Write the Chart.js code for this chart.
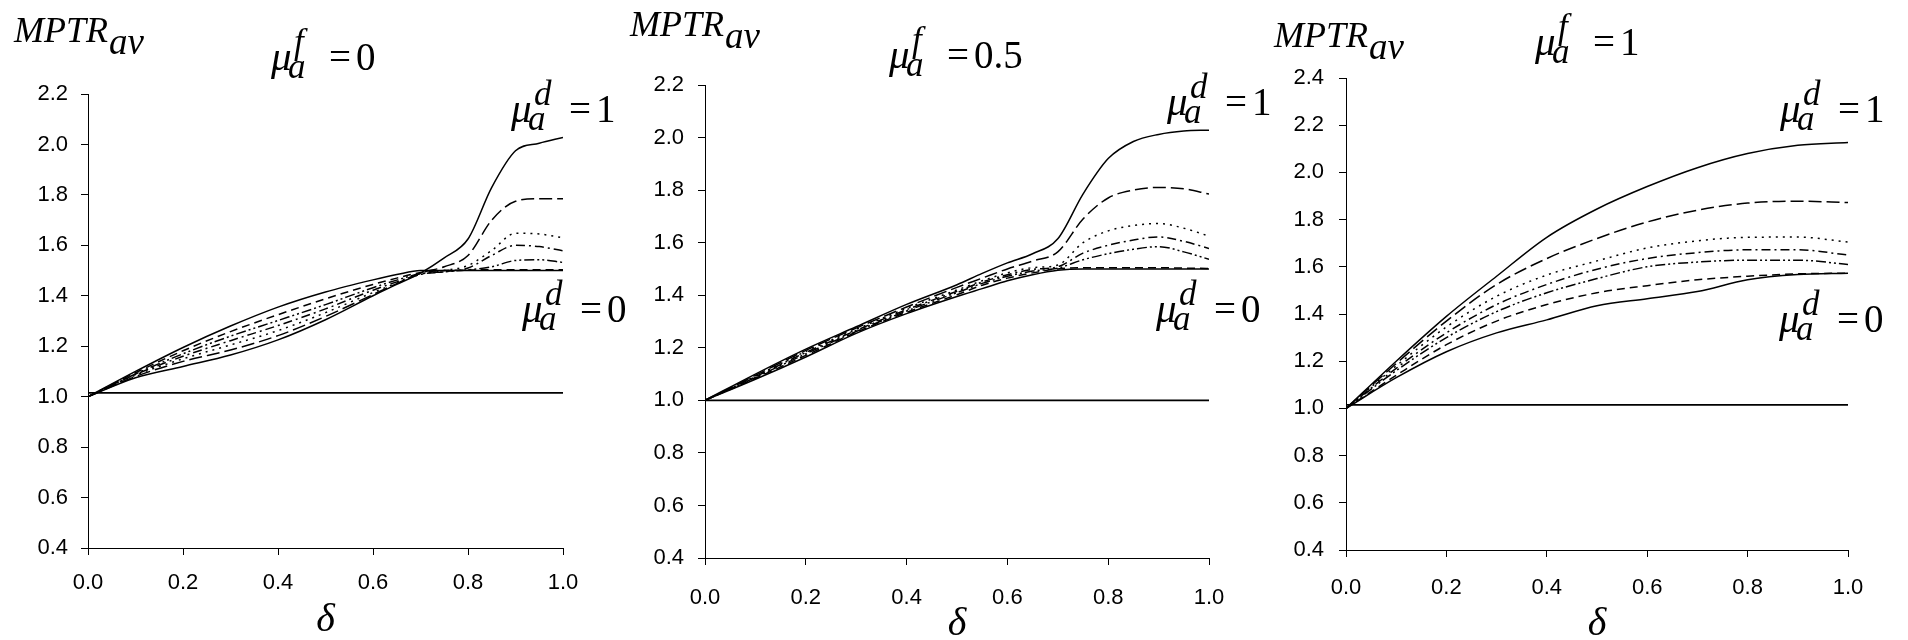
<!DOCTYPE html>
<html>
<head>
<meta charset="utf-8">
<script src="https://cdn.jsdelivr.net/npm/chart.js@4.4.0/dist/chart.umd.min.js"></script>
<style>
  html, body { margin: 0; padding: 0; background: #fff; }
  #wrap { position: relative; width: 1908px; height: 640px; overflow: hidden; }
  #wrap canvas { position: absolute; left: 0; top: 0; }
</style>
</head>
<body>
<div id="wrap">
  <canvas id="c1" width="1908" height="640"></canvas>
  <canvas id="c2" width="1908" height="640"></canvas>
  <canvas id="c3" width="1908" height="640"></canvas>
</div>
<script>
// delta values for each panel
const delta1 = [0, 0.1, 0.2, 0.3, 0.4, 0.5, 0.6, 0.65, 0.7, 0.75, 0.8, 0.85, 0.9, 0.95, 1];
const delta2 = [0, 0.1, 0.2, 0.3, 0.4, 0.5, 0.55, 0.6, 0.65, 0.7, 0.75, 0.8, 0.85, 0.9, 0.95, 1];
const delta3 = [0, 0.1, 0.2, 0.3, 0.4, 0.5, 0.6, 0.7, 0.8, 0.9, 1];

// mu_a^f = 0, curves from mu_a^d = 1 (top at right) down to mu_a^d = 0
const p1_d1 = [1.000, 1.075, 1.120, 1.165, 1.225, 1.305, 1.400, 1.445, 1.490, 1.550, 1.625, 1.830, 1.975, 2.005, 2.028];
const p1_d2 = [1.000, 1.080, 1.140, 1.185, 1.242, 1.318, 1.405, 1.448, 1.490, 1.515, 1.560, 1.700, 1.775, 1.785, 1.785];
const p1_d3 = [1.000, 1.085, 1.150, 1.205, 1.262, 1.333, 1.413, 1.450, 1.485, 1.500, 1.520, 1.580, 1.648, 1.645, 1.630];
const p1_d4 = [1.000, 1.088, 1.160, 1.222, 1.282, 1.348, 1.422, 1.455, 1.485, 1.495, 1.510, 1.560, 1.600, 1.595, 1.578];
const p1_d5 = [1.000, 1.090, 1.170, 1.240, 1.302, 1.365, 1.432, 1.462, 1.488, 1.495, 1.503, 1.515, 1.540, 1.543, 1.532];
const p1_d6 = [1.000, 1.095, 1.182, 1.258, 1.325, 1.388, 1.445, 1.470, 1.492, 1.500, 1.502, 1.503, 1.503, 1.503, 1.503];
const p1_d7 = [1.000, 1.100, 1.195, 1.280, 1.355, 1.415, 1.463, 1.484, 1.500, 1.500, 1.500, 1.500, 1.500, 1.500, 1.500];

// mu_a^f = 0.5
const p2_d1 = [1.000, 1.100, 1.195, 1.280, 1.365, 1.440, 1.483, 1.523, 1.558, 1.615, 1.785, 1.920, 1.985, 2.012, 2.025, 2.028];
const p2_d2 = [1.000, 1.095, 1.190, 1.275, 1.355, 1.430, 1.465, 1.500, 1.530, 1.565, 1.690, 1.770, 1.800, 1.810, 1.805, 1.785];
const p2_d3 = [1.000, 1.092, 1.186, 1.270, 1.350, 1.420, 1.455, 1.485, 1.505, 1.515, 1.600, 1.645, 1.665, 1.673, 1.655, 1.625];
const p2_d4 = [1.000, 1.090, 1.182, 1.266, 1.345, 1.415, 1.450, 1.478, 1.498, 1.508, 1.560, 1.590, 1.610, 1.622, 1.605, 1.578];
const p2_d5 = [1.000, 1.087, 1.177, 1.262, 1.340, 1.410, 1.445, 1.472, 1.492, 1.503, 1.535, 1.558, 1.575, 1.585, 1.565, 1.537];
const p2_d6 = [1.000, 1.084, 1.171, 1.259, 1.335, 1.402, 1.438, 1.465, 1.485, 1.500, 1.505, 1.505, 1.505, 1.505, 1.503, 1.502];
const p2_d7 = [1.000, 1.080, 1.165, 1.255, 1.330, 1.395, 1.425, 1.455, 1.478, 1.495, 1.500, 1.500, 1.500, 1.500, 1.500, 1.500];

// mu_a^f = 1
const p3_d1 = [1.000, 1.200, 1.390, 1.560, 1.725, 1.845, 1.940, 2.020, 2.080, 2.115, 2.127];
const p3_d2 = [1.000, 1.190, 1.370, 1.525, 1.635, 1.720, 1.790, 1.840, 1.870, 1.878, 1.872];
const p3_d3 = [1.000, 1.180, 1.345, 1.475, 1.565, 1.625, 1.680, 1.710, 1.725, 1.726, 1.705];
const p3_d4 = [1.000, 1.170, 1.320, 1.440, 1.525, 1.590, 1.635, 1.660, 1.672, 1.672, 1.650];
const p3_d5 = [1.000, 1.160, 1.300, 1.410, 1.490, 1.550, 1.600, 1.620, 1.628, 1.628, 1.610];
const p3_d6 = [1.000, 1.140, 1.270, 1.370, 1.440, 1.490, 1.520, 1.545, 1.560, 1.570, 1.573];
const p3_d7 = [1.000, 1.130, 1.240, 1.320, 1.375, 1.435, 1.465, 1.495, 1.545, 1.567, 1.573];

// flat reference line in each panel
const refX = [0, 1];
const ref1 = [1.015, 1.015];
const ref2 = [1.0, 1.0];
const ref3 = [1.015, 1.015];

const xTicks = [0, 0.2, 0.4, 0.6, 0.8, 1.0];

// line styles, mu_a^d = 1 ... mu_a^d = 0
const dashes = [[], [13, 5], [2, 5], [9, 4, 2, 4], [10, 3, 2, 3, 2, 3], [8, 5], []];

const serif = '"Liberation Serif", "Times New Roman", serif';
Chart.defaults.font.family = '"Liberation Sans", Arial, sans-serif';
Chart.defaults.color = '#000';

function pts(xs, ys) {
  return xs.map((x, i) => ({ x: x, y: ys[i] }));
}

function drawMu(ctx, x, y, sup, val) {
  ctx.font = 'italic 41px ' + serif;
  ctx.fillText('\u03bc', x, y);
  ctx.font = 'italic 35px ' + serif;
  ctx.fillText(sup, x + 23, y - 17);
  ctx.fillText('a', x + 17, y + 8);
  ctx.font = '39px ' + serif;
  ctx.fillText('=', x + 58, y);
  ctx.fillText(val, x + 85, y);
}

function drawTitle(ctx, x, y) {
  ctx.font = 'italic 36px ' + serif;
  ctx.fillText('MPTR', x, y);
  const w = ctx.measureText('MPTR').width;
  ctx.font = 'italic 37px ' + serif;
  ctx.fillText('av', x + w + 1, y + 12);
}

function makePanel(id, xs, series, ref, lay, texts) {
  const datasets = series.map((ys, i) => ({
    data: pts(xs, ys),
    borderColor: '#000',
    borderWidth: 1.5,
    borderDash: dashes[i],
    pointRadius: 0,
    fill: false,
    cubicInterpolationMode: 'monotone'
  }));
  datasets.push({
    data: pts(refX, ref),
    borderColor: '#000',
    borderWidth: 1.6,
    pointRadius: 0,
    fill: false
  });

  return new Chart(document.getElementById(id), {
    type: 'line',
    data: { datasets: datasets },
    options: {
      responsive: false,
      animation: false,
      events: [],
      layout: { padding: { left: lay.padLeft, right: lay.padRight, top: lay.padTop, bottom: 0 } },
      plugins: { legend: { display: false }, tooltip: { enabled: false } },
      scales: {
        x: {
          type: 'linear',
          min: 0, max: 1,
          afterBuildTicks: (s) => { s.ticks = xTicks.map(v => ({ value: v })); },
          afterFit: (s) => { s.height = lay.xHeight; },
          ticks: {
            font: { size: 22 },
            padding: lay.xPad,
            maxRotation: 0,
            callback: (v) => Number(v).toFixed(1)
          },
          grid: { drawOnChartArea: false, drawTicks: true, tickLength: 7, color: '#000' },
          border: { display: true, color: '#000', width: 1 },
          title: {
            display: true,
            text: '\u03b4',
            font: { family: serif, size: 40, style: 'italic', lineHeight: 0.8 },
            padding: { top: 0, bottom: lay.titlePad }
          }
        },
        y: {
          type: 'linear',
          min: 0.4, max: lay.yMax,
          afterFit: (s) => { s.width = lay.yWidth; },
          ticks: {
            stepSize: 0.2,
            font: { size: 22 },
            padding: lay.yPad,
            callback: (v) => Number(v).toFixed(1)
          },
          grid: { drawOnChartArea: false, drawTicks: true, tickLength: 7, color: '#000' },
          border: { display: true, color: '#000', width: 1 }
        }
      }
    },
    plugins: [{
      id: 'texts',
      afterDraw(chart) {
        const ctx = chart.ctx;
        ctx.save();
        ctx.fillStyle = '#000';
        ctx.textBaseline = 'alphabetic';
        ctx.textAlign = 'left';
        drawTitle(ctx, texts.title[0], texts.title[1]);
        drawMu(ctx, texts.muF[0], texts.muF[1], 'f', texts.muF[2]);
        drawMu(ctx, texts.muD1[0], texts.muD1[1], 'd', '1');
        drawMu(ctx, texts.muD0[0], texts.muD0[1], 'd', '0');
        ctx.restore();
      }
    }]
  });
}

makePanel('c1', delta1, [p1_d1, p1_d2, p1_d3, p1_d4, p1_d5, p1_d6, p1_d7], ref1,
  { padLeft: 0, padRight: 1345, padTop: 94, yWidth: 88, xHeight: 92, yMax: 2.2, xPad: 15, yPad: 13, titlePad: 4 },
  { title: [14, 42], muF: [271, 70, '0'], muD1: [511, 122], muD0: [522, 322] });

makePanel('c2', delta2, [p2_d1, p2_d2, p2_d3, p2_d4, p2_d5, p2_d6, p2_d7], ref2,
  { padLeft: 605, padRight: 699, padTop: 85, yWidth: 100, xHeight: 82, yMax: 2.2, xPad: 20, yPad: 14, titlePad: 0 },
  { title: [630, 36], muF: [889, 68, '0.5'], muD1: [1167, 115], muD0: [1156, 322] });

makePanel('c3', delta3, [p3_d1, p3_d2, p3_d3, p3_d4, p3_d5, p3_d6, p3_d7], ref3,
  { padLeft: 1246, padRight: 60, padTop: 78, yWidth: 100, xHeight: 90, yMax: 2.4, xPad: 18, yPad: 15, titlePad: 0 },
  { title: [1274, 47], muF: [1535, 55, '1'], muD1: [1780, 122], muD0: [1779, 332] });
</script>
</body>
</html>
